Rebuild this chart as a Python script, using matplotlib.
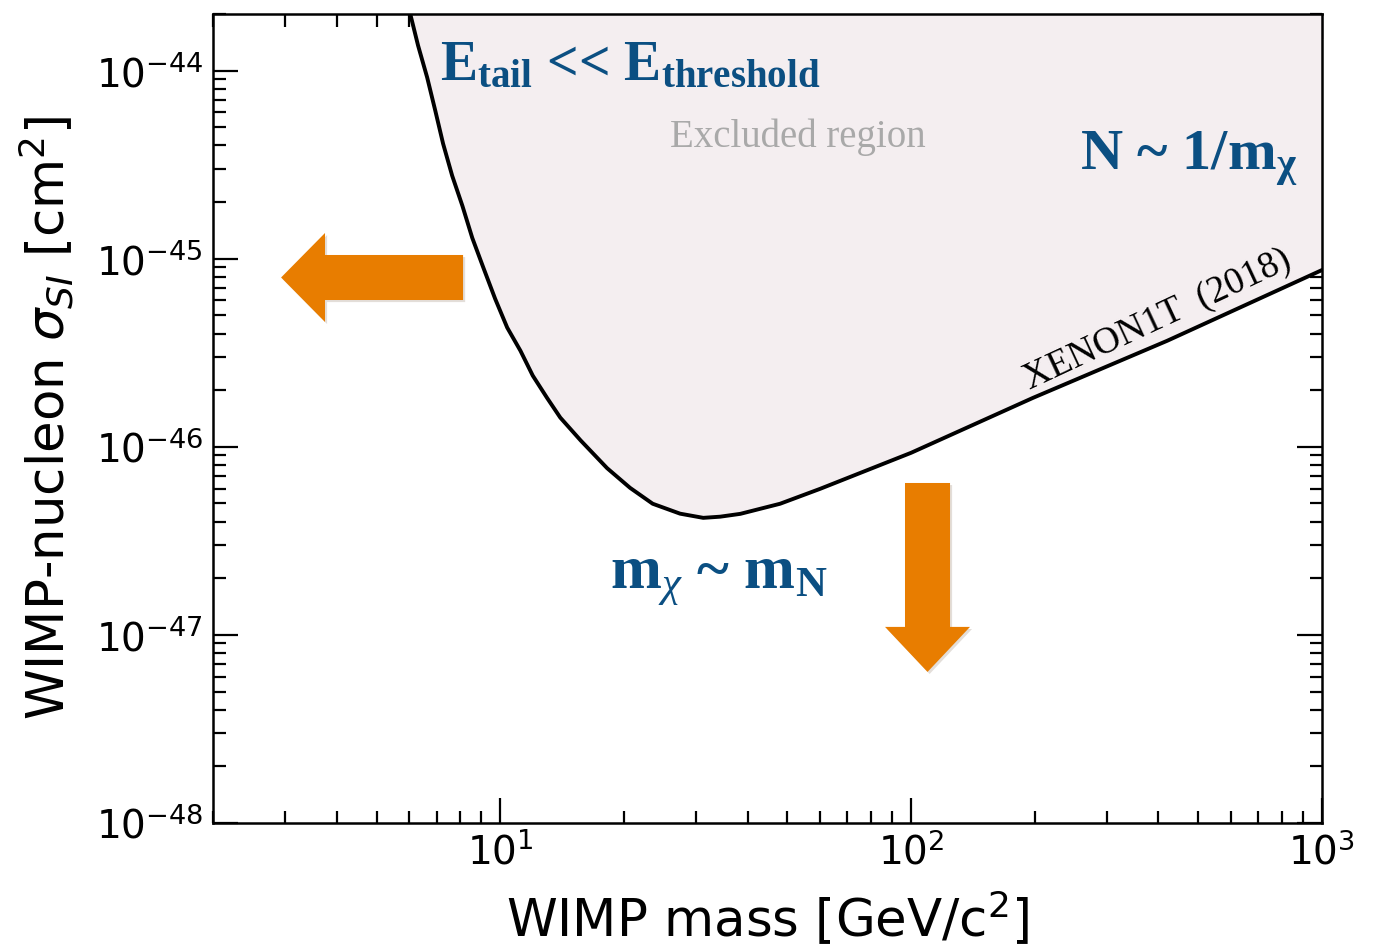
import matplotlib
matplotlib.use("Agg")
import matplotlib.pyplot as plt
from matplotlib.patches import FancyArrow
from matplotlib import patheffects

# XENON1T (2018) limit
massa = [6.04, 6.31, 6.64, 6.95, 7.26, 7.64, 8.09, 8.55, 9.10, 9.72, 10.4, 11.2, 12.0, 13.0,
         14.0, 15.7, 18.2, 20.7, 23.5, 27.4, 31.2, 34.3, 38.4, 48.0, 60.1, 76.4, 100, 198, 420, 1000]
sigma = [2.0e-44, 1.36e-44, 9.2e-45, 6.12e-45, 4.09e-45, 2.76e-45, 1.91e-45, 1.29e-45, 8.95e-46,
         6.12e-46, 4.30e-46, 3.24e-46, 2.39e-46, 1.82e-46, 1.43e-46, 1.08e-46, 7.7e-47, 6.05e-47,
         4.98e-47, 4.41e-47, 4.19e-47, 4.25e-47, 4.40e-47, 4.98e-47, 5.98e-47, 7.36e-47, 9.29e-47,
         1.82e-46, 3.66e-46, 8.7e-46]

xlim = (2, 1000)
ylim = (1e-48, 2e-44)
xticks = [10, 100, 1000]
yticks = [1e-48, 1e-47, 1e-46, 1e-45, 1e-44]

azul = '#0b4f82'
laranja = '#e87d00'

plt.rcParams['mathtext.bf'] = 'Liberation Serif:bold'
plt.rcParams['mathtext.it'] = 'Liberation Serif:italic'
plt.rcParams['mathtext.rm'] = 'Liberation Serif'

fig = plt.figure(figsize=(13.86, 9.5), dpi=100)
ax = fig.add_axes([0.1537, 0.1337, 0.8001, 0.8516])

# regiao excluida acima da curva
ax.fill_between(massa, sigma, ylim[1], color='#f4eef0', lw=0, zorder=1)
ax.plot(massa, sigma, color='black', lw=2.8, zorder=3, solid_joinstyle='round')

ax.set_xscale('log')
ax.set_yscale('log')
ax.set_xticks(xticks)
ax.set_yticks(yticks)
ax.set_xlim(*xlim)
ax.set_ylim(*ylim)
ax.set_axisbelow(True)

for lado in ax.spines.values():
    lado.set_linewidth(1.8)
ax.tick_params(which='both', direction='in', top=True, right=True, width=1.6, labelsize=28)
ax.tick_params(which='major', length=18, pad=7)
ax.tick_params(which='minor', length=9)

ax.set_xlabel(r'WIMP mass [GeV/c$^2$]', fontsize=37, labelpad=12)
ax.set_ylabel(r'WIMP-nucleon $\sigma_{SI}$ [cm$^2$]', fontsize=37, labelpad=14)

# anotacoes
ax.text(0.2047, 0.918, r'$\mathbf{E_{tail}}$ << $\mathbf{E_{threshold}}$', transform=ax.transAxes,
        fontsize=40, family='Liberation Serif', weight='bold', color=azul, va='baseline',
        math_fontfamily='custom', zorder=5)
ax.text(0.5275, 0.848, 'Excluded region', transform=ax.transAxes, fontsize=28,
        family='Liberation Serif', color='#a9a9a9', ha='center', va='center', zorder=5)
ax.text(0.782, 0.807, r'N ~ 1/$\mathbf{m_{χ}}$', transform=ax.transAxes, fontsize=42,
        family='Liberation Serif', weight='bold', color=azul, va='baseline',
        math_fontfamily='custom', zorder=5)
ax.text(0.358, 0.290, r'$\mathbf{m}_{\chi}$ ~ $\mathbf{m_N}$', transform=ax.transAxes, fontsize=44,
        family='Liberation Serif', weight='bold', color=azul, va='baseline',
        math_fontfamily='custom', zorder=5)
ax.text(0.852, 0.622, 'XENON1T  (2018)', transform=ax.transAxes, fontsize=27,
        family='Liberation Serif', color='black', rotation=25, rotation_mode='anchor',
        ha='center', va='center', zorder=5)

# setas laranja
sombra = [patheffects.withSimplePatchShadow(offset=(1.5, -1.5), alpha=0.15)]
seta_esq = FancyArrow(0.3341, 0.7079, -0.1313, 0, width=0.0474, head_width=0.0937,
                      head_length=0.0317, length_includes_head=True, transform=fig.transFigure,
                      color=laranja, lw=0, path_effects=sombra)
seta_baixo = FancyArrow(0.6692, 0.4916, 0, -0.1989, width=0.0325, head_width=0.0613,
                        head_length=0.0474, length_includes_head=True, transform=fig.transFigure,
                        color=laranja, lw=0, path_effects=sombra)
fig.add_artist(seta_esq)
fig.add_artist(seta_baixo)

plt.savefig('out.png', dpi=100)
plt.close()
